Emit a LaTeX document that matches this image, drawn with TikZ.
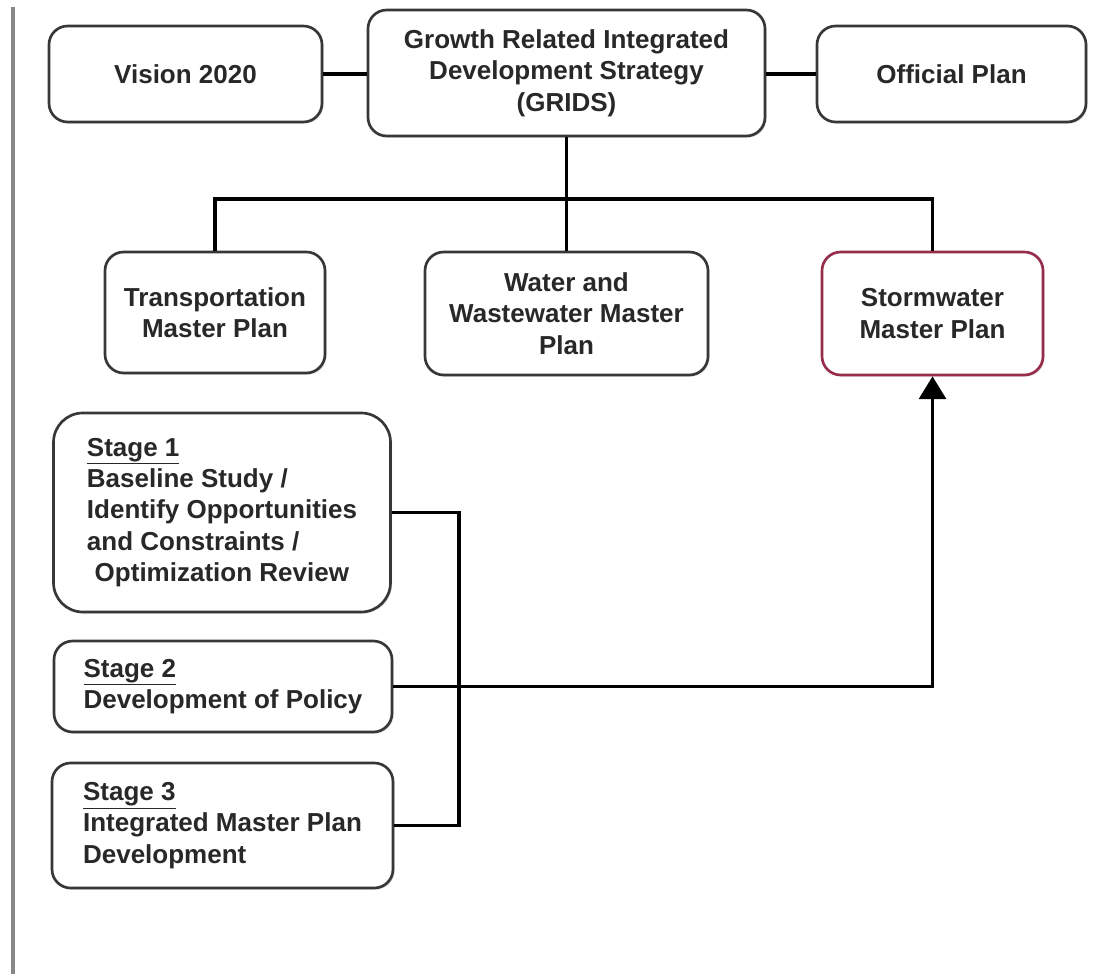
\documentclass[tikz,border=0pt]{standalone}
\usepackage{fontspec}
\setmainfont{Liberation Sans}
\usetikzlibrary{arrows.meta,shadows}
\definecolor{boxline}{RGB}{55,55,55}
\definecolor{boxtext}{RGB}{40,40,40}
\definecolor{stormred}{RGB}{150,45,75}
\definecolor{sidegray}{RGB}{135,135,135}

\begin{document}
\begin{tikzpicture}[x=0.75pt, y=-0.75pt,
		box/.style={draw=boxline, line width=2pt, rectangle, rounded corners=14pt, fill=white, align=center, text=boxtext, font=\fontsize{19.5}{23.5}\selectfont\bfseries, drop shadow={opacity=0.25, shadow xshift=1.2pt, shadow yshift=-1.2pt}},
		stagebox/.style={box, align=left},
		link/.style={line width=2.8pt, black}]
				\useasboundingbox (0,0) rectangle (1095,974);
				\fill[white] (0,0) rectangle (1095,974);
				\draw[sidegray, line width=3pt] (13,7) -- (13,974);

				% Strategy row
				\node[box, minimum width=204.75pt, minimum height=72pt] (vision) at (185.5,74) {Vision 2020};
				\node[box, minimum width=297.75pt, minimum height=94.5pt] (grids) at (566.5,73) {Growth Related Integrated\\Development Strategy\\(GRIDS)};
				\node[box, minimum width=201.75pt, minimum height=72pt] (official) at (951.5,74) {Official Plan};

				% Master plans
				\node[box, minimum width=165pt, minimum height=90.75pt] (transport) at (215,312.5) {Transportation\\Master Plan};
				\node[box, minimum width=212.25pt, minimum height=92.25pt] (water) at (566.5,313.5) {Water and\\Wastewater Master\\Plan};
				\node[box, draw=stormred, minimum width=165.75pt, minimum height=92.25pt] (storm) at (932.5,313.5) {Stormwater\\Master Plan};

				% Stages
				\node[stagebox, rounded corners=22pt, minimum width=252.75pt, minimum height=149.25pt] (stage1) at (222,512.5) {\underline{Stage 1}\\Baseline Study /\\Identify Opportunities\\and Constraints /\\\hspace*{0.3em}Optimization Review};
				\node[stagebox, minimum width=253.5pt, minimum height=68.25pt] (stage2) at (223,686.5) {\underline{Stage 2}\\Development of Policy};
				\node[stagebox, minimum width=255.75pt, minimum height=93.75pt] (stage3) at (222.5,825.5) {\underline{Stage 3}\\Integrated Master Plan\\Development};

				\coordinate (topbus) at (566.5,199);
				\coordinate (stagebus) at (459,512.5);

				\draw[link] (vision.east) -- (grids.west |- vision.east);
				\draw[link] (official.west) -- (grids.east |- official.west);
				\draw[link] (grids.south) -- (water.north);
				\draw[link] (transport.north) -- (transport.north |- topbus) -- (storm.north |- topbus) -- (storm.north);

				% Stages feed the stormwater plan
				\draw[link] (stage1.east) -- (stagebus) -- (stagebus |- stage3.east) -- (stage3.east);
				\draw[link] (stage2.east) -- (stage2.east -| stagebus);
				\draw[link, -{Triangle[length=17pt, width=20pt]}] (stage2.east -| stagebus) -| (storm.south);
			\end{tikzpicture}
\end{document}
